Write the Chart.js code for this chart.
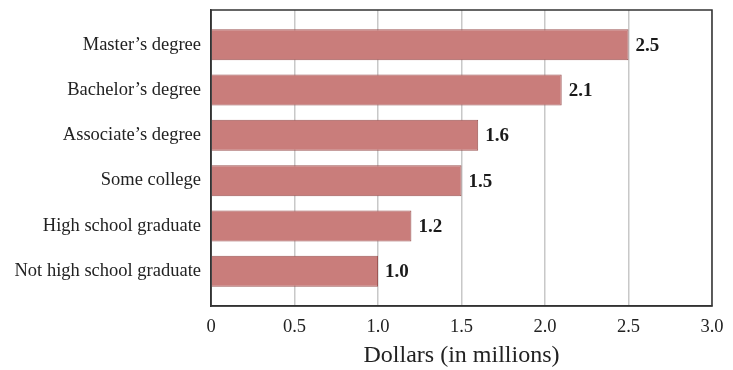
<!DOCTYPE html>
<html>
<head>
<meta charset="utf-8">
<script src="https://cdn.jsdelivr.net/npm/chart.js@4"></script>
<style>
  html, body { margin: 0; padding: 0; background: #fff; }
  #wrap { width: 733px; height: 370px; }
</style>
</head>
<body>
<div id="wrap"><canvas id="earningsChart"></canvas></div>
<script>
const categories = [
    "Master\u2019s degree",
    "Bachelor\u2019s degree",
    "Associate\u2019s degree",
    "Some college",
    "High school graduate",
    "Not high school graduate",
];
const earnings = [2.5, 2.1, 1.6, 1.5, 1.2, 1.0];
const xTicks = [0, 0.5, 1.0, 1.5, 2.0, 2.5, 3.0];
const xTickLabels = ["0", "0.5", "1.0", "1.5", "2.0", "2.5", "3.0"];

const serif = "'Liberation Serif', 'Times New Roman', serif";

// frame round the plot and bold value labels
const extras = {
    id: "extras",
    afterDatasetsDraw(chart) {
        const ctx = chart.ctx;
        const meta = chart.getDatasetMeta(0);
        ctx.save();
        ctx.font = "bold 19px " + serif;
        ctx.fillStyle = "#1a1a1a";
        ctx.textAlign = "left";
        ctx.textBaseline = "middle";
        meta.data.forEach((bar, i) => {
            ctx.fillText(earnings[i].toFixed(1), bar.x + 7, bar.y + 1);
        });
        const a = chart.chartArea;
        ctx.strokeStyle = "#333";
        ctx.lineWidth = 1.5;
        ctx.strokeRect(a.left, a.top, a.right - a.left, a.bottom - a.top);
        ctx.restore();
    },
};

const ctx = document.getElementById("earningsChart").getContext("2d");

new Chart(ctx, {
    type: "bar",
    data: {
        datasets: [
            {
                data: earnings.map((v, i) => ({ x: v, y: i })),
                backgroundColor: "#c97d7b",
                borderColor: "#9c5654",
                borderWidth: 1,
                categoryPercentage: 1,
                barPercentage: 0.685,
            },
        ],
    },
    options: {
        indexAxis: "y",
        responsive: true,
        maintainAspectRatio: false,
        animation: false,
        layout: { padding: { top: 10, right: 21, left: 0, bottom: 0 } },
        plugins: {
            legend: { display: false },
            tooltip: { enabled: false },
        },
        scales: {
            x: {
                type: "linear",
                min: 0,
                max: 3,
                afterBuildTicks: (axis) => {
                    axis.ticks = xTicks.map((v) => ({ value: v }));
                },
                afterFit: (axis) => {
                    axis.height = 64;
                    axis.paddingLeft = 0;
                    axis.paddingRight = 0;
                },
                ticks: {
                    callback: (v, i) => xTickLabels[i],
                    color: "#222",
                    font: { family: serif, size: 18.5 },
                    padding: 10,
                    maxRotation: 0,
                },
                grid: {
                    color: "#c8c8c8",
                    lineWidth: 1.5,
                    drawTicks: false,
                },
                border: { color: "#333", width: 1.5 },
                title: {
                    display: true,
                    text: "Dollars (in millions)",
                    color: "#222",
                    font: { family: serif, size: 24 },
                    padding: { top: 0, bottom: 0 },
                },
            },
            y: {
                type: "linear",
                offset: false,
                reverse: true,
                min: -0.77,
                max: 5.77,
                afterBuildTicks: (axis) => {
                    axis.ticks = categories.map((c, i) => ({ value: i }));
                },
                afterFit: (axis) => {
                    axis.width = 211;
                    axis.paddingTop = 0;
                    axis.paddingBottom = 0;
                },
                ticks: {
                    callback: (v) => categories[v],
                    color: "#222",
                    font: { family: serif, size: 18.5 },
                    padding: 10,
                },
                grid: { display: false, drawTicks: false, offset: false },
                border: { color: "#333", width: 1.5 },
            },
        },
    },
    plugins: [extras],
});
</script>
</body>
</html>
